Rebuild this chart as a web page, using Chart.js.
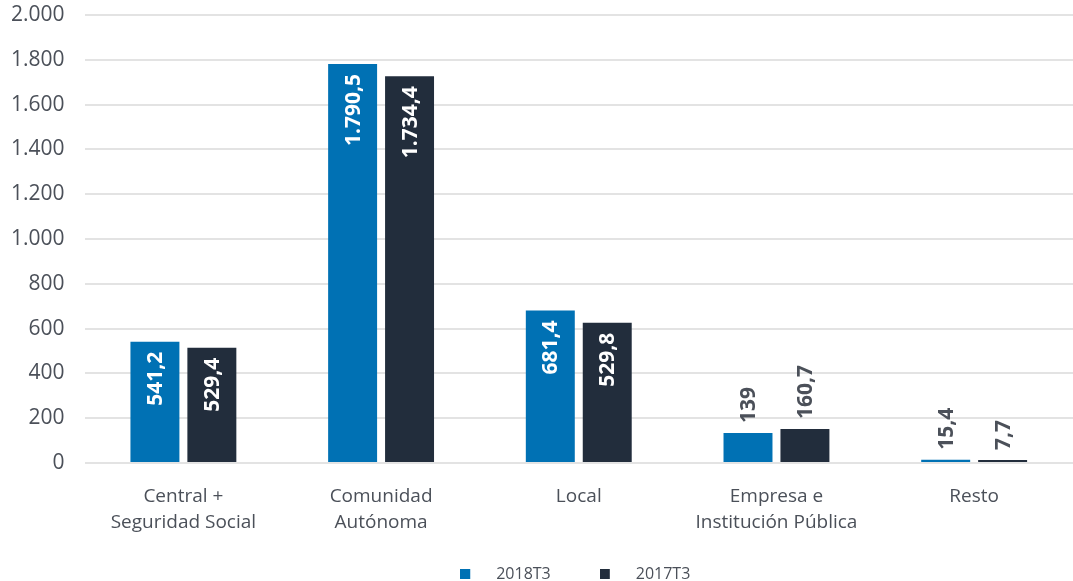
<!DOCTYPE html>
<html>
<head>
<meta charset="utf-8">
<script src="https://cdn.jsdelivr.net/npm/chart.js@4/dist/chart.umd.min.js"></script>
<style>
  html, body { margin: 0; padding: 0; background: #fff; }
  #wrap { width: 1073px; height: 581px; }
</style>
</head>
<body>
<div id="wrap"><canvas id="chart"></canvas></div>
<script>
// Data
const categories = [['Central +', 'Seguridad Social'], ['Comunidad', 'Autónoma'], 'Local', ['Empresa e', 'Institución Pública'], 'Resto'];
const seriesNames = ['2018T3', '2017T3'];
const values2018 = [541, 1781, 681, 134, 15];
const values2017 = [515, 1727, 626, 152, 13];
const labels2018 = ['541,2', '1.790,5', '681,4', '139', '15,4'];
const labels2017 = ['529,4', '1.734,4', '529,8', '160,7', '7,7'];
const yTicks = [0, 200, 400, 600, 800, 1000, 1200, 1400, 1600, 1800, 2000];

const blue = '#0071b4';
const dark = '#222d3c';
const textColor = '#4b5059';

// legend marker: 10px square at the left of a wider transparent image
function legendMarker(color) {
    const c = document.createElement('canvas');
    c.width = 35;
    c.height = 10;
    const g = c.getContext('2d');
    g.fillStyle = color;
    g.fillRect(0, 0, 10, 10);
    return c;
}

// draw rotated value labels, inside the bar when there's room, above otherwise
const valueLabels = {
    id: 'valueLabels',
    afterDatasetsDraw(chart) {
        const ctx = chart.ctx;
        const allLabels = [labels2018, labels2017];
        chart.data.datasets.forEach((ds, i) => {
            const meta = chart.getDatasetMeta(i);
            meta.data.forEach((bar, j) => {
                const text = allLabels[i][j];
                const h = bar.base - bar.y;
                ctx.save();
                ctx.font = 'bold 21px "Open Sans"';
                ctx.translate(bar.x, bar.y);
                ctx.rotate(-Math.PI / 2);
                ctx.textBaseline = 'middle';
                const w = ctx.measureText(text).width;
                if (h > w + 20) {
                    ctx.fillStyle = '#ffffff';
                    ctx.textAlign = 'right';
                    ctx.fillText(text, -10, 1);
                } else {
                    ctx.fillStyle = textColor;
                    ctx.textAlign = 'left';
                    ctx.fillText(text, 10, 1);
                }
                ctx.restore();
            });
        });
    }
};

// the x axis is laid out short so the legend can sit close; give its labels room to draw
const xLabelRoom = {
    id: 'xLabelRoom',
    afterLayout(chart) {
        const x = chart.scales.x;
        x.bottom = x.top + 80;
    }
};

const ctx = document.getElementById('chart').getContext('2d');
const chart = new Chart(ctx, {
    type: 'bar',
    data: {
        labels: categories,
        datasets: [{
            label: seriesNames[0],
            data: values2018,
            backgroundColor: blue,
            pointStyle: legendMarker(blue)
        }, {
            label: seriesNames[1],
            data: values2017,
            backgroundColor: dark,
            pointStyle: legendMarker(dark)
        }]
    },
    options: {
        responsive: true,
        maintainAspectRatio: false,
        animation: false,
        categoryPercentage: 0.576,
        barPercentage: 0.86,
        layout: {
            padding: { left: 11, right: 0, top: 2, bottom: -11 }
        },
        plugins: {
            tooltip: { enabled: false },
            legend: {
                position: 'bottom',
                fullSize: false,
                labels: {
                    usePointStyle: true,
                    pointStyleWidth: 21,
                    boxHeight: 10,
                    padding: 56,
                    color: textColor,
                    font: { family: '"Open Sans"', size: 16 }
                }
            }
        },
        scales: {
            x: {
                grid: { display: false, drawTicks: false },
                border: { display: false },
                afterFit: (axis) => {
                    axis.height = 47;
                },
                ticks: {
                    color: textColor,
                    padding: 20,
                    maxRotation: 0,
                    font: { family: '"Open Sans"', size: 19, lineHeight: 1.4 }
                }
            },
            y: {
                min: 0,
                max: 2000,
                afterBuildTicks: (axis) => {
                    axis.ticks = yTicks.map(v => ({ value: v }));
                },
                afterFit: (axis) => {
                    axis.width -= 20;
                    axis.paddingTop = 15;
                    axis.paddingBottom = 13;
                },
                grid: { color: '#e3e3e3', lineWidth: 2, drawTicks: false },
                border: { display: false },
                ticks: {
                    color: textColor,
                    padding: 20,
                    font: { family: '"Open Sans"', size: 21 },
                    callback: (v) => v.toLocaleString('de-DE')
                }
            }
        }
    },
    plugins: [valueLabels, xLabelRoom]
});
</script>
</body>
</html>
